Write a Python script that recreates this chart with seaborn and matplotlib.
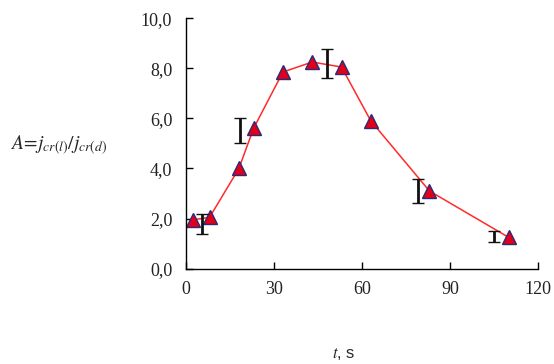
import matplotlib
matplotlib.use("Agg")
import matplotlib.pyplot as plt
import matplotlib.ticker as mticker
import seaborn as sns
import pandas as pd

# ==========================================
# DATA

time_s = [2.5, 8, 18, 23, 33, 43, 53, 63, 83, 110]
ratio_a = [1.95, 2.05, 4.0, 5.6, 7.85, 8.25, 8.05, 5.9, 3.1, 1.25]

err_x = [5.5, 18.5, 48, 79, 105]
err_y = [1.8, 5.5, 8.2, 3.1, 1.3]
err_half = [0.4, 0.5, 0.58, 0.46, 0.22]

x_ticks = [0, 30, 60, 90, 120]
y_ticks = [0, 2, 4, 6, 8, 10]

df = pd.DataFrame({"t": time_s, "A": ratio_a})

# ==========================================
# PLOT

sns.set_style("white")
plt.rcParams["font.family"] = ["Liberation Serif", "DejaVu Serif"]
plt.rcParams["mathtext.fontset"] = "stix"

fig = plt.figure(figsize=(5.54, 3.64), dpi=100)
ax = fig.add_axes([0.336, 0.262, 0.635, 0.688])

sns.lineplot(
    data=df,
    x="t",
    y="A",
    color="#ff2a2a",
    linewidth=1.1,
    marker="^",
    markersize=9.5,
    markerfacecolor="#e0001a",
    markeredgecolor="#2b2a7a",
    markeredgewidth=1.0,
    ax=ax,
)

ax.errorbar(
    err_x,
    err_y,
    yerr=err_half,
    fmt="none",
    ecolor="#111111",
    elinewidth=2.0,
    capsize=4.5,
    capthick=1.0,
)

ax.set_xlim(0, 120)
ax.set_ylim(0, 10)
ax.set_xticks(x_ticks)
ax.set_yticks(y_ticks)
ax.yaxis.set_major_formatter(
    mticker.FuncFormatter(lambda v, p: f"{v:.1f}".replace(".", ","))
)

for side in ["top", "right"]:
    ax.spines[side].set_visible(False)
for side in ["left", "bottom"]:
    ax.spines[side].set_color("black")
    ax.spines[side].set_linewidth(1.0)

ax.tick_params(
    direction="in",
    length=5,
    width=1.0,
    color="black",
    labelsize=13,
    labelcolor="#222222",
    left=True,
    bottom=True,
)
ax.tick_params(axis="y", pad=10)
ax.tick_params(axis="x", pad=9)

ax.set_xlabel("")
ax.set_ylabel("")

fig.text(
    0.018, 0.60,
    r"$A\!=\!j_{cr(l)}/j_{cr(d)}$",
    fontsize=14,
    ha="left",
    va="center",
)
fig.text(
    0.62, 0.028,
    r"$t$, s",
    fontsize=12,
    family=["Liberation Sans", "DejaVu Sans"],
    ha="center",
    va="center",
)

plt.savefig("out.png", dpi=100)
